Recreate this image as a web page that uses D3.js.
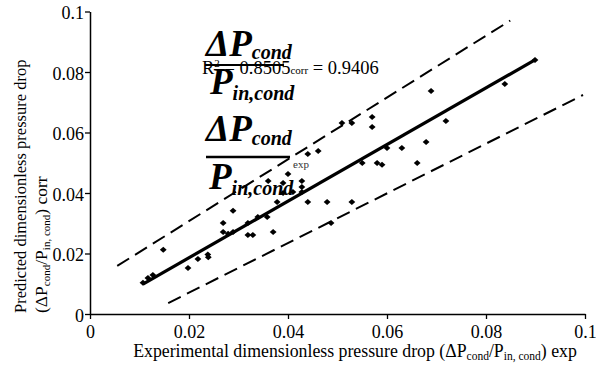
<!DOCTYPE html>
<html>
<head>
<meta charset="utf-8">
<script src="https://cdn.jsdelivr.net/npm/d3@7"></script>
<style>
  body { margin: 0; background: #fff; }
  svg { display: block; font-family: 'Liberation Serif', 'Times New Roman', serif; }
  svg text { font-family: 'Liberation Serif', 'Times New Roman', serif; }
</style>
</head>
<body>
<div id="chart"></div>
<script>
// experimental vs predicted dimensionless pressure drop
const expValues = [0.0107, 0.0117, 0.0127, 0.0148, 0.0198, 0.0218, 0.0238, 0.0239,
  0.0269, 0.0269, 0.0279, 0.0289, 0.0289, 0.0319, 0.0329, 0.0319, 0.0339, 0.0358,
  0.0370, 0.0378, 0.0390, 0.0410, 0.0428, 0.0360, 0.0390, 0.0428, 0.0428, 0.0400,
  0.0440, 0.0461, 0.0440, 0.0479, 0.0529, 0.0487, 0.0509, 0.0529, 0.0570, 0.0570,
  0.0689, 0.0719, 0.0679, 0.0600, 0.0630, 0.0550, 0.0580, 0.0590, 0.0661, 0.0838, 0.0899];
const corrValues = [0.0103, 0.0119, 0.0129, 0.0212, 0.0152, 0.0182, 0.0197, 0.0188,
  0.0301, 0.0271, 0.0265, 0.0271, 0.0341, 0.0261, 0.0261, 0.0301, 0.0321, 0.0321,
  0.0271, 0.0370, 0.0400, 0.0403, 0.0403, 0.0440, 0.0433, 0.0440, 0.0420, 0.0463,
  0.0529, 0.0539, 0.0370, 0.0370, 0.0370, 0.0301, 0.0631, 0.0631, 0.0651, 0.0618,
  0.0737, 0.0638, 0.0569, 0.0549, 0.0549, 0.0499, 0.0499, 0.0493, 0.0499, 0.0760, 0.0840];

// regression line and the two dashed bounds, as [x, y] end points
const fitLine = [[0.0107, 0.0099], [0.0899, 0.0840]];
const upperBound = [[0.0055, 0.0159], [0.0849, 0.0970]];
const lowerBound = [[0.0158, 0.0036], [0.0996, 0.0724]];

const xTicks = [0, 0.02, 0.04, 0.06, 0.08, 0.1];
const yTicks = [0, 0.02, 0.04, 0.06, 0.08, 0.1];
const tickLabels = ['0', '0.02', '0.04', '0.06', '0.08', '0.1'];

const serif = "'Liberation Serif', 'Times New Roman', serif";
const width = 596, height = 365;
const svg = d3.select('#chart').append('svg')
  .attr('width', width).attr('height', height);

const x = d3.scaleLinear().domain([0, 0.1]).range([90, 585]);
const y = d3.scaleLinear().domain([0, 0.1]).range([314, 11.5]);

// axes
const xAxis = svg.append('g')
  .attr('transform', 'translate(0,' + y(0) + ')')
  .call(d3.axisBottom(x).tickValues(xTicks).tickFormat((d) => tickLabels[xTicks.indexOf(d)])
    .tickSize(5).tickSizeOuter(0).tickPadding(6));
const yAxis = svg.append('g')
  .attr('transform', 'translate(' + x(0) + ',0)')
  .call(d3.axisLeft(y).tickValues(yTicks).tickFormat((d) => tickLabels[yTicks.indexOf(d)])
    .tickSize(5).tickSizeOuter(0).tickPadding(1));
[xAxis, yAxis].forEach((g) => {
  g.attr('font-family', serif).attr('font-size', 18);
  g.select('.domain').attr('stroke', '#000').attr('stroke-width', 1.5);
  g.selectAll('.tick line').attr('stroke', '#000').attr('stroke-width', 1.3);
  g.selectAll('.tick text').attr('fill', '#000');
});
yAxis.selectAll('.tick text').attr('dy', '0.4em');

// lines
const line = d3.line().x((d) => x(d[0])).y((d) => y(d[1]));
svg.append('path').datum(upperBound).attr('d', line)
  .attr('fill', 'none').attr('stroke', '#000').attr('stroke-width', 2).attr('stroke-dasharray', '14,7');
svg.append('path').datum(lowerBound).attr('d', line)
  .attr('fill', 'none').attr('stroke', '#000').attr('stroke-width', 2).attr('stroke-dasharray', '14,7');
svg.append('path').datum(fitLine).attr('d', line)
  .attr('fill', 'none').attr('stroke', '#000').attr('stroke-width', 3.2);

// points
const points = expValues.map((v, i) => [v, corrValues[i]]);
svg.append('g').selectAll('path').data(points).join('path')
  .attr('transform', (d) => 'translate(' + x(d[0]) + ',' + y(d[1]) + ')')
  .attr('d', 'M0,-3L3.4,0L0,3L-3.4,0Z')
  .attr('fill', '#000');

// axis titles
svg.append('text')
  .attr('x', 355).attr('y', 357).attr('text-anchor', 'middle')
  .style('font-size', '17.8px')
  .html('Experimental dimensionless pressure drop (ΔP<tspan font-size="11.5" dy="3">cond</tspan><tspan dy="-3">/P</tspan><tspan font-size="11.5" dy="3">in, cond</tspan><tspan dy="-3">) exp</tspan>');

// both y-title lines start at the same height, as in the original
svg.append('text')
  .attr('transform', 'translate(25.5,313) rotate(-90)').attr('text-anchor', 'start')
  .style('font-size', '16.5px')
  .text('Predicted dimensionless pressure drop');
svg.append('text')
  .attr('transform', 'translate(47,313) rotate(-90)').attr('text-anchor', 'start')
  .style('font-size', '17.5px')
  .html('(ΔP<tspan font-size="11" dy="3">cond</tspan><tspan dy="-3">/P</tspan><tspan font-size="11" dy="3">in, cond</tspan><tspan dy="-3">) corr</tspan>');

// equation overlay
const eq = svg.append('g').attr('font-family', serif)
  .attr('font-weight', 'bold').attr('font-style', 'italic');
eq.append('text').attr('x', 206).attr('y', 56).style('font-size', '37px')
  .html('ΔP<tspan font-size="20" dy="3">cond</tspan>');
eq.append('line').attr('x1', 205).attr('x2', 284).attr('y1', 65).attr('y2', 65)
  .attr('stroke', '#000').attr('stroke-width', 2);
eq.append('text').attr('x', 210).attr('y', 94).style('font-size', '37px')
  .html('P<tspan font-size="20" dy="6">in,cond</tspan>');

eq.append('text').attr('x', 206).attr('y', 141).style('font-size', '37px')
  .html('ΔP<tspan font-size="20" dy="4">cond</tspan>');
eq.append('line').attr('x1', 206).attr('x2', 290).attr('y1', 157).attr('y2', 157)
  .attr('stroke', '#000').attr('stroke-width', 2.7);
eq.append('text').attr('x', 209).attr('y', 189).style('font-size', '37px')
  .html('P<tspan font-size="20" dy="6">in,cond</tspan>');

svg.append('text').attr('x', 293).attr('y', 168).style('font-size', '11px').attr('fill', '#333')
  .text('exp');

svg.append('text').attr('x', 202).attr('y', 74).style('font-size', '18.5px')
  .html('R<tspan font-size="11" dy="-7">2</tspan><tspan dy="7"> = 0.8505</tspan><tspan font-size="11">corr</tspan><tspan> = 0.9406</tspan>');
</script>
</body>
</html>
